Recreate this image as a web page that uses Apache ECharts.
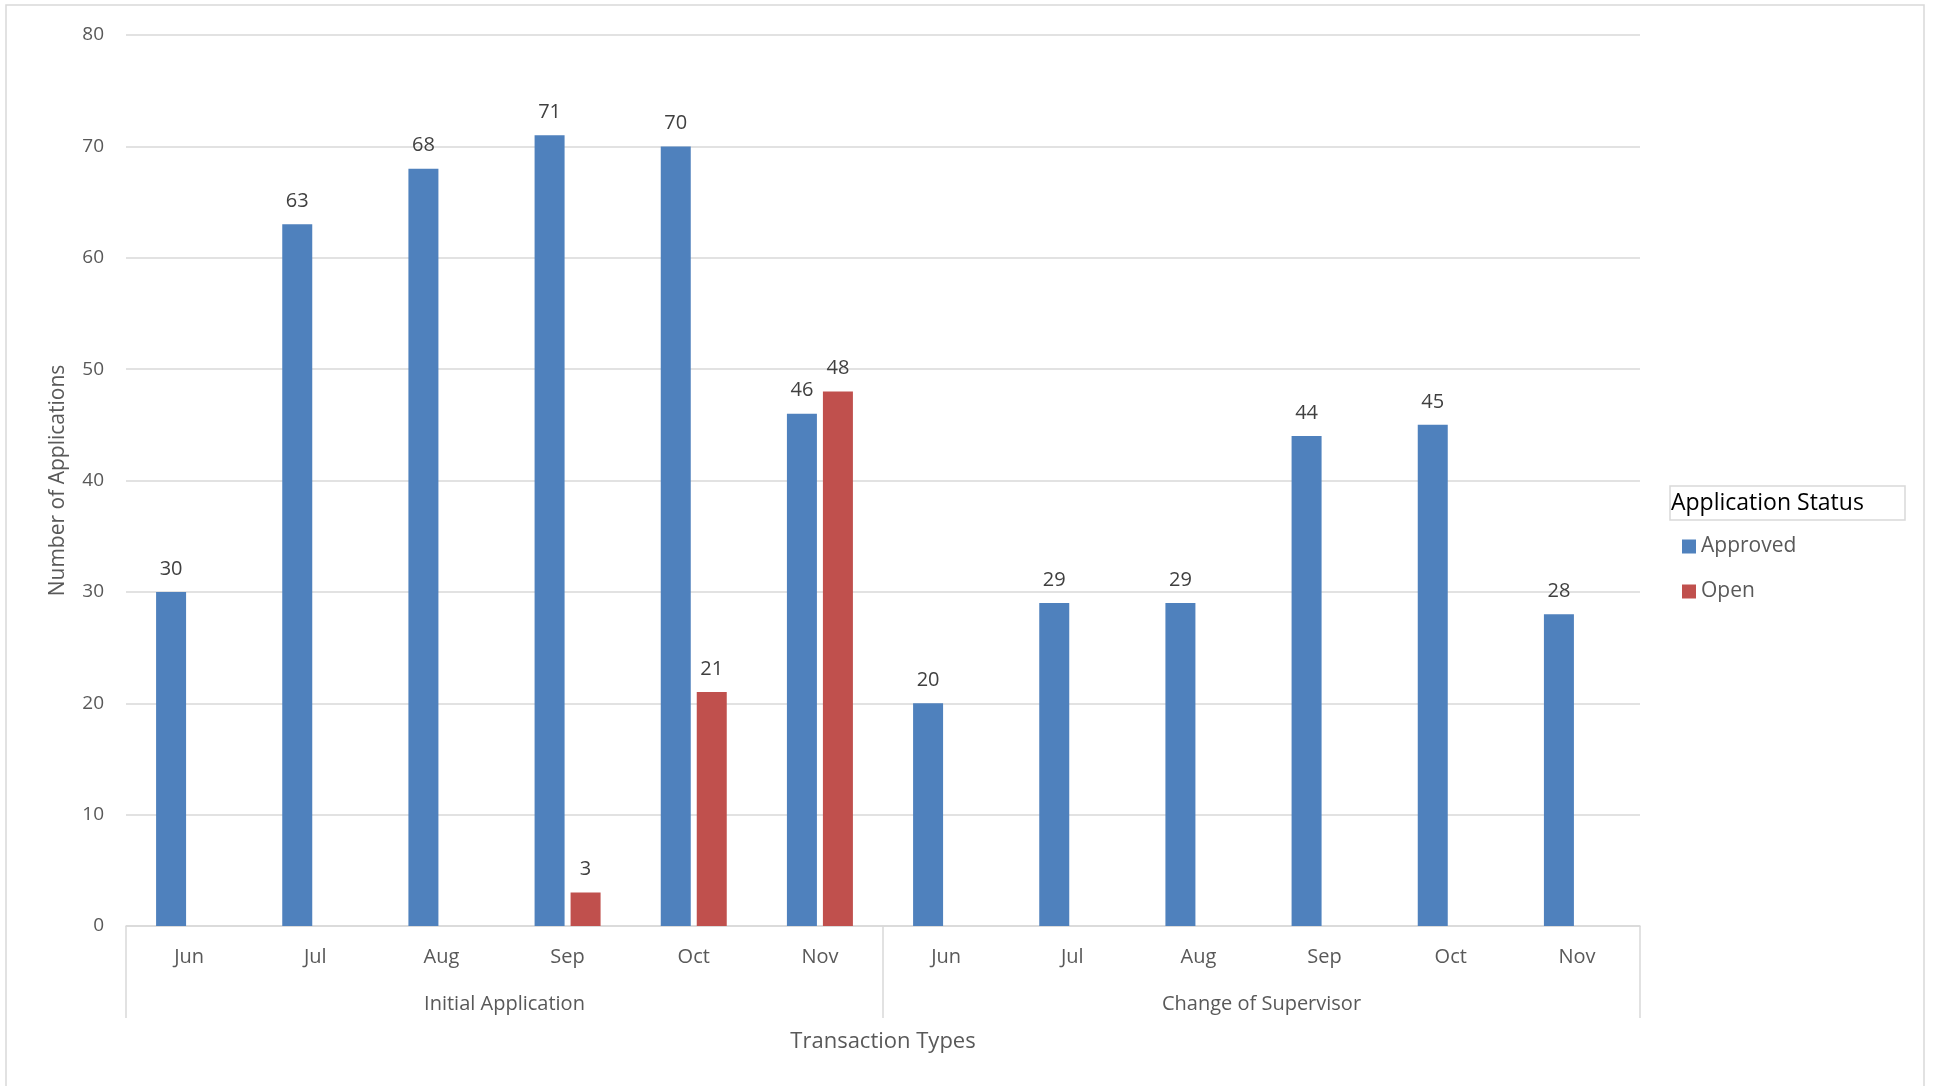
<!DOCTYPE html>
<html>
<head>
<meta charset="utf-8">
<script src="https://cdn.jsdelivr.net/npm/echarts@6/dist/echarts.min.js"></script>
<style>
  html, body { margin: 0; padding: 0; background: #fff; }
  #chart { width: 1933px; height: 1086px; }
</style>
</head>
<body>
<div id="chart"></div>
<script>
const months = ["Jun", "Jul", "Aug", "Sep", "Oct", "Nov", "Jun", "Jul", "Aug", "Sep", "Oct", "Nov"];
const groups = ["Initial Application", "Change of Supervisor"];
const approved = [30, 63, 68, 71, 70, 46, 20, 29, 29, 44, 45, 28];
const open = [null, null, null, 3, 21, 48, null, null, null, null, null, null];

const font = "'Open Sans', sans-serif";
const grey = "#595959";
const lineGrey = "#d9d9d9";

const chart = echarts.init(document.getElementById("chart"));

chart.setOption({
  animation: false,
  textStyle: { fontFamily: font },
  grid: { left: 126, right: 293, top: 35, bottom: 160 },
  legend: {
    orient: "vertical",
    left: 1677,
    top: 531,
    itemWidth: 14,
    itemHeight: 14,
    itemGap: 24,
    icon: "rect",
    textStyle: { color: grey, fontSize: 21, fontFamily: font },
    data: ["Approved", "Open"],
  },
  graphic: [
    {
      type: "rect",
      shape: { x: 6, y: 5, width: 1918, height: 1090 },
      style: { fill: "none", stroke: lineGrey, lineWidth: 1.5 },
      silent: true,
    },
    {
      type: "rect",
      shape: { x: 1670, y: 486, width: 235, height: 34 },
      style: { fill: "none", stroke: lineGrey, lineWidth: 1.5 },
      silent: true,
    },
    {
      type: "text",
      left: 1671,
      top: 492,
      style: { text: "Application Status", fill: "#000", fontSize: 23, fontFamily: font },
    },
  ],
  xAxis: [
    {
      type: "category",
      data: months,
      axisLine: { lineStyle: { color: lineGrey, width: 1.5 } },
      axisTick: { show: false },
      axisLabel: { color: grey, fontSize: 20, margin: 21 },
    },
    {
      type: "category",
      data: groups,
      position: "bottom",
      axisLine: { show: false },
      axisTick: { show: true, length: 92, lineStyle: { color: lineGrey, width: 1.5 } },
      axisLabel: { color: grey, fontSize: 20, margin: 68 },
      name: "Transaction Types",
      nameLocation: "middle",
      nameGap: 105,
      nameTextStyle: { color: grey, fontSize: 22 },
    },
  ],
  yAxis: {
    type: "value",
    min: 0,
    max: 80,
    interval: 10,
    name: "Number of Applications",
    nameLocation: "middle",
    nameGap: 57,
    nameTextStyle: { color: grey, fontSize: 21 },
    axisLine: { show: false },
    axisTick: { show: false },
    axisLabel: { color: grey, fontSize: 19, margin: 22 },
    splitLine: { lineStyle: { color: lineGrey, width: 1.5 } },
  },
  series: [
    {
      name: "Approved",
      type: "bar",
      data: approved,
      barWidth: 30,
      barGap: "20%",
      itemStyle: { color: "#4f81bd" },
      label: { show: true, position: "top", color: "#404040", fontSize: 20, distance: 13 },
    },
    {
      name: "Open",
      type: "bar",
      data: open,
      barWidth: 30,
      itemStyle: { color: "#c0504d" },
      label: { show: true, position: "top", color: "#404040", fontSize: 20, distance: 13 },
    },
  ],
});
</script>
</body>
</html>
